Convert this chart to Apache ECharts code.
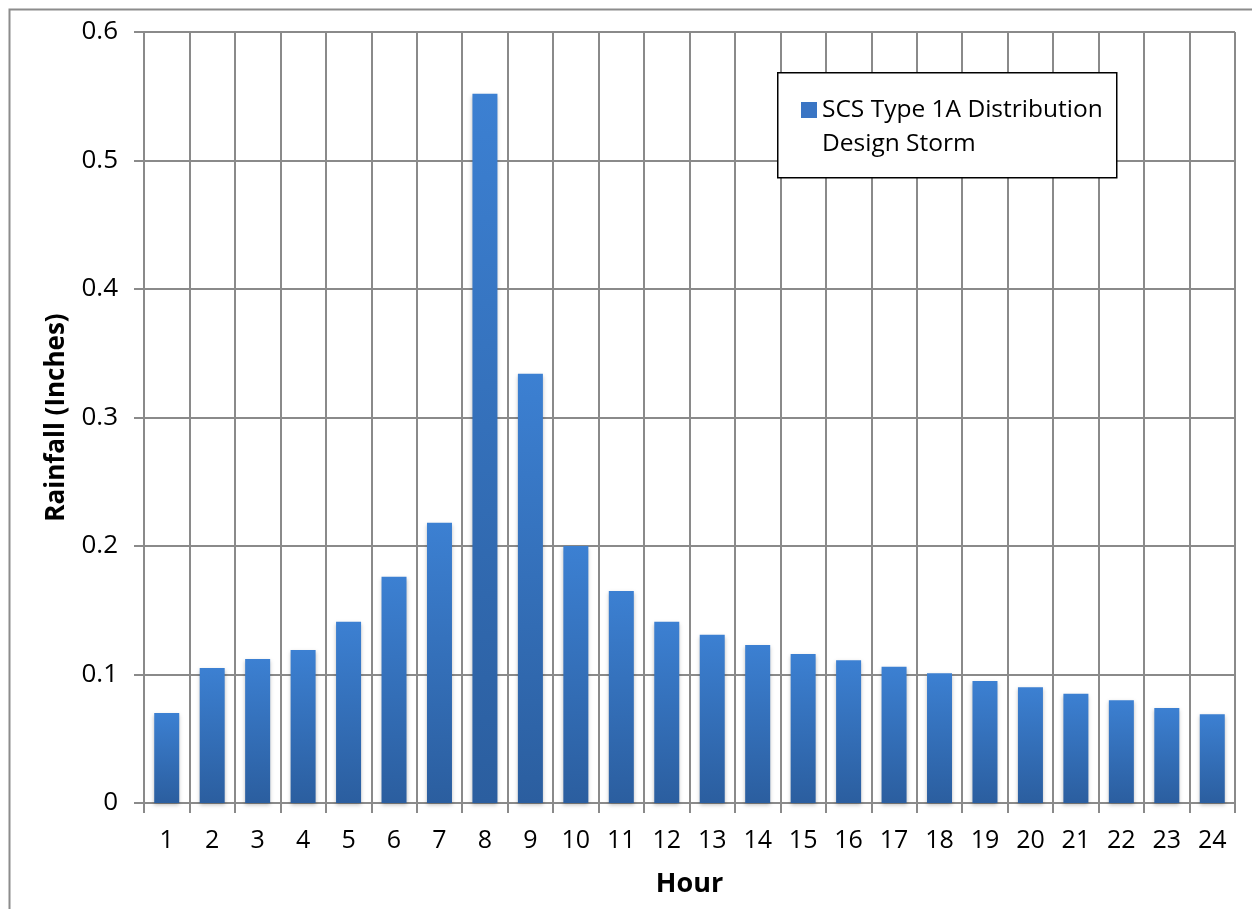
<!DOCTYPE html>
<html>
<head>
<meta charset="utf-8">
<script src="https://cdn.jsdelivr.net/npm/echarts@6/dist/echarts.min.js"></script>
<style>
html,body{margin:0;padding:0;background:#fff;}
#chart{width:1252px;height:909px;}
</style>
</head>
<body>
<div id="chart"></div>
<script>
var hours = ['1','2','3','4','5','6','7','8','9','10','11','12','13','14','15','16','17','18','19','20','21','22','23','24'];
var rainfall = [0.070,0.105,0.112,0.119,0.141,0.176,0.218,0.552,0.334,0.200,0.165,0.141,0.131,0.123,0.116,0.111,0.106,0.101,0.095,0.090,0.085,0.080,0.074,0.069];
var seriesName = 'SCS Type 1A Distribution\nDesign Storm';
var yTicks = {min:0, max:0.6, interval:0.1};

var FONT = '"Open Sans", sans-serif';
var GRID = '#8a8a8a';

var chart = echarts.init(document.getElementById('chart'), null, {renderer:'canvas'});
chart.setOption({
  animation:false,
  backgroundColor:'#fff',
  grid:{left:144, top:32, right:17, bottom:106, containLabel:false},
  graphic:[
    {type:'rect', left:7, top:7, shape:{width:1270, height:930}, style:{fill:'none', stroke:'#8c8c8c', lineWidth:2}, silent:true, z:-1},
    {type:'rect', left:777, top:72, shape:{width:339, height:105}, style:{fill:'#fff', stroke:'#000', lineWidth:1.5}, silent:true, z:50}
  ],
  legend:{
    left:801, top:59, padding:0,
    itemWidth:16, itemHeight:16, icon:'rect',
    z:60,
    formatter:function(name){return '\n' + name;},
    textStyle:{fontFamily:FONT, fontSize:24.5, color:'#000', lineHeight:34},
    data:[{name:seriesName, itemStyle:{color:'#3a75c4'}}]
  },
  xAxis:{
    type:'category', data:hours,
    name:'Hour', nameLocation:'middle', nameGap:68,
    nameTextStyle:{fontFamily:FONT, fontSize:27, fontWeight:'bold', color:'#000'},
    axisLine:{lineStyle:{color:GRID, width:2}},
    axisTick:{show:true, length:10, lineStyle:{color:GRID, width:2}},
    axisLabel:{fontFamily:FONT, fontSize:25, color:'#000', margin:25},
    splitLine:{show:true, lineStyle:{color:GRID, width:2}}
  },
  yAxis:{
    type:'value', min:yTicks.min, max:yTicks.max, interval:yTicks.interval,
    name:'Rainfall (Inches)', nameLocation:'middle', nameGap:74, nameRotate:90,
    nameTextStyle:{fontFamily:FONT, fontSize:26, fontWeight:'bold', color:'#000'},
    axisLine:{show:true, lineStyle:{color:GRID, width:2}},
    axisTick:{show:true, length:10, lineStyle:{color:GRID, width:2}},
    axisLabel:{fontFamily:FONT, fontSize:26, color:'#000', margin:26,
      formatter:function(v){return v===0?'0':v.toFixed(1);}},
    splitLine:{show:true, lineStyle:{color:GRID, width:2}}
  },
  series:[{
    name:seriesName, type:'bar', data:rainfall,
    barCategoryGap:'45%',
    itemStyle:{
      color:new echarts.graphic.LinearGradient(0,0,0,1,[
        {offset:0,color:'#3c80d2'},{offset:1,color:'#2b5e9f'}
      ]),
      shadowColor:'rgba(0,0,0,0.25)', shadowBlur:4, shadowOffsetY:2
    }
  }]
});
</script>
</body>
</html>
